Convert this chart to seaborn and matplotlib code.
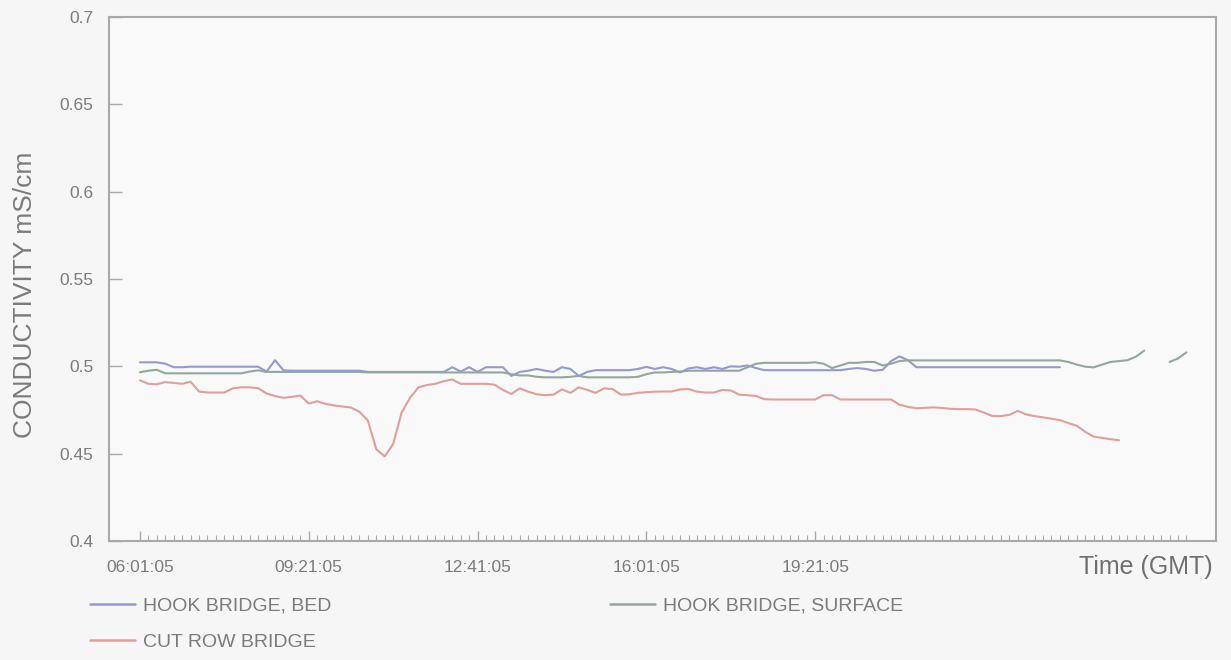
import numpy as np
import pandas as pd
import matplotlib
matplotlib.use("Agg")
import matplotlib.pyplot as plt
import matplotlib.dates as mdates
from matplotlib.ticker import FixedLocator, FixedFormatter, FuncFormatter
from matplotlib.lines import Line2D
import seaborn as sns

# ---- data: conductivity logged every 10 minutes from 06:01:05 GMT ----
start_time = "2000-01-01 06:01:05"
sample_interval_min = 10
n_samples = 125

nan = np.nan

cond_hook_bed = [
    0.5023, 0.5023, 0.5023, 0.5015, 0.4995, 0.4995, 0.4998, 0.4998, 0.4998, 0.4998,
    0.4998, 0.4998, 0.4998, 0.4998, 0.4998, 0.4970, 0.5035, 0.4977, 0.4975, 0.4975,
    0.4975, 0.4975, 0.4975, 0.4975, 0.4975, 0.4975, 0.4975, 0.4968, 0.4968, 0.4968,
    0.4968, 0.4968, 0.4968, 0.4968, 0.4968, 0.4968, 0.4968, 0.4995, 0.4970, 0.4995,
    0.4968, 0.4995, 0.4995, 0.4995, 0.4945, 0.4968, 0.4975, 0.4985, 0.4975, 0.4968,
    0.4995, 0.4985, 0.4945, 0.4968, 0.4978, 0.4978, 0.4978, 0.4978, 0.4978, 0.4985,
    0.4997, 0.4985, 0.4995, 0.4985, 0.4965, 0.4988, 0.4995, 0.4985, 0.4995, 0.4985,
    0.5000, 0.4998, 0.5005, 0.4990, 0.4978, 0.4978, 0.4978, 0.4978, 0.4978, 0.4978,
    0.4978, 0.4978, 0.4978, 0.4978, 0.4985, 0.4990, 0.4985, 0.4975, 0.4980, 0.5030,
    0.5057, 0.5035, 0.4995, 0.4995, 0.4995, 0.4995, 0.4995, 0.4995, 0.4995, 0.4995,
    0.4995, 0.4995, 0.4995, 0.4995, 0.4995, 0.4995, 0.4995, 0.4995, 0.4995, 0.4995,
    nan, nan, nan, nan, nan, nan, nan, nan, nan, nan,
    nan, nan, nan, nan, nan,
]

cond_hook_surface = [
    0.4966, 0.4975, 0.4980, 0.4960, 0.4960, 0.4960, 0.4960, 0.4960, 0.4960, 0.4960,
    0.4960, 0.4960, 0.4960, 0.4970, 0.4977, 0.4968, 0.4968, 0.4968, 0.4968, 0.4968,
    0.4968, 0.4968, 0.4968, 0.4968, 0.4968, 0.4968, 0.4968, 0.4965, 0.4965, 0.4965,
    0.4965, 0.4965, 0.4965, 0.4965, 0.4965, 0.4965, 0.4965, 0.4965, 0.4965, 0.4965,
    0.4965, 0.4965, 0.4965, 0.4965, 0.4955, 0.4948, 0.4948, 0.4940, 0.4937, 0.4937,
    0.4937, 0.4940, 0.4945, 0.4937, 0.4937, 0.4937, 0.4937, 0.4937, 0.4937, 0.4940,
    0.4955, 0.4965, 0.4965, 0.4968, 0.4970, 0.4975, 0.4975, 0.4975, 0.4975, 0.4975,
    0.4975, 0.4975, 0.4995, 0.5015, 0.5020, 0.5020, 0.5020, 0.5020, 0.5020, 0.5020,
    0.5023, 0.5015, 0.4990, 0.5005, 0.5020, 0.5020, 0.5025, 0.5025, 0.5005, 0.5015,
    0.5030, 0.5034, 0.5034, 0.5034, 0.5034, 0.5034, 0.5034, 0.5034, 0.5034, 0.5034,
    0.5034, 0.5034, 0.5034, 0.5034, 0.5034, 0.5034, 0.5034, 0.5034, 0.5034, 0.5034,
    0.5025, 0.5010, 0.4998, 0.4994, 0.5010, 0.5025, 0.5030, 0.5035, 0.5055, 0.5090,
    nan, nan, 0.5025, 0.5045, 0.5080,
]

cond_cut_row = [
    0.4920, 0.4900, 0.4897, 0.4910, 0.4905, 0.4900, 0.4912, 0.4856, 0.4850, 0.4850,
    0.4850, 0.4874, 0.4880, 0.4880, 0.4875, 0.4845, 0.4830, 0.4820, 0.4825, 0.4833,
    0.4787, 0.4800, 0.4785, 0.4776, 0.4770, 0.4764, 0.4740, 0.4690, 0.4525, 0.4485,
    0.4555, 0.4735, 0.4820, 0.4880, 0.4893, 0.4900, 0.4915, 0.4925, 0.4900, 0.4900,
    0.4900, 0.4900, 0.4895, 0.4865, 0.4842, 0.4874, 0.4855, 0.4840, 0.4835, 0.4838,
    0.4868, 0.4848, 0.4880, 0.4865, 0.4848, 0.4874, 0.4870, 0.4838, 0.4840, 0.4848,
    0.4852, 0.4855, 0.4856, 0.4856, 0.4868, 0.4870, 0.4855, 0.4850, 0.4850, 0.4865,
    0.4862, 0.4838, 0.4835, 0.4830, 0.4812, 0.4810, 0.4810, 0.4810, 0.4810, 0.4810,
    0.4810, 0.4835, 0.4835, 0.4810, 0.4810, 0.4810, 0.4810, 0.4810, 0.4810, 0.4810,
    0.4780, 0.4768, 0.4760, 0.4762, 0.4765, 0.4762, 0.4757, 0.4755, 0.4755, 0.4753,
    0.4735, 0.4716, 0.4715, 0.4722, 0.4745, 0.4725, 0.4715, 0.4708, 0.4700, 0.4692,
    0.4675, 0.4660, 0.4625, 0.4598, 0.4590, 0.4583, 0.4577, nan, nan, nan,
    nan, nan, nan, nan, nan,
]

series_names = ["HOOK BRIDGE, BED", "HOOK BRIDGE, SURFACE", "CUT ROW BRIDGE"]
series_values = [cond_hook_bed, cond_hook_surface, cond_cut_row]
series_colors = ["#9597db", "#93a89b", "#e59d9b"]

time_tick_labels = ["06:01:05", "09:21:05", "12:41:05", "16:01:05", "19:21:05"]
y_ticks = [0.4, 0.45, 0.5, 0.55, 0.6, 0.65, 0.7]

# ---- long-form table; gaps in a record split the line into segments ----
base = pd.Timestamp(start_time)
times = base + pd.to_timedelta(np.arange(n_samples) * sample_interval_min, unit="min")

rows = []
for name, vals in zip(series_names, series_values):
    seg = 0
    prev_missing = False
    for t, v in zip(times, vals):
        if np.isnan(v):
            prev_missing = True
            continue
        if prev_missing:
            seg += 1
            prev_missing = False
        rows.append({"time": t, "value": v, "series": name, "segment": f"{name}#{seg}"})
df = pd.DataFrame(rows)

# ---- figure ----
sns.set_theme(style="white")
plt.rcParams["font.family"] = ["Liberation Sans", "DejaVu Sans"]

text_grey = "#7b7b7b"
frame_grey = "#a9a9ab"

fig = plt.figure(figsize=(12.31, 6.6), dpi=100, facecolor="#f6f6f6")
ax = fig.add_axes([109 / 1231, 1 - 541 / 660, 1107 / 1231, 524 / 660])
ax.set_facecolor("#f9f9f9")

palette = dict(zip(series_names, series_colors))
sns.lineplot(
    data=df, x="time", y="value", hue="series", units="segment",
    estimator=None, palette=palette, hue_order=series_names,
    linewidth=1.5, legend=False, ax=ax,
)

# axes limits and ticks
ax.set_xlim(base - pd.Timedelta(minutes=36.7), base + pd.Timedelta(minutes=1275))
ax.set_ylim(0.4, 0.7)

tick_times = [pd.Timestamp("2000-01-01 " + s) for s in time_tick_labels]
ax.xaxis.set_major_locator(FixedLocator(mdates.date2num(tick_times)))
ax.xaxis.set_major_formatter(FixedFormatter(time_tick_labels))
ax.xaxis.set_minor_locator(FixedLocator(mdates.date2num(times)))

ax.yaxis.set_major_locator(FixedLocator(y_ticks))
ax.yaxis.set_major_formatter(FuncFormatter(lambda v, p: f"{v:g}"))

ax.tick_params(axis="x", which="major", direction="in", length=7, width=1,
               color=frame_grey, labelsize=12.5, labelcolor=text_grey, pad=14)
ax.tick_params(axis="x", which="minor", direction="in", length=4, width=0.8,
               color=frame_grey)
ax.tick_params(axis="y", which="major", direction="in", length=9, width=1,
               color=frame_grey, labelsize=12.5, labelcolor=text_grey, pad=11)
ax.tick_params(bottom=True, left=True, which="both")
ax.tick_params(axis="y", which="minor", left=False)

for sp in ax.spines.values():
    sp.set_visible(True)
    sp.set_color(frame_grey)
    sp.set_linewidth(1.5)

ax.set_ylabel("CONDUCTIVITY mS/cm", fontsize=19, color=text_grey, va="center")
ax.yaxis.set_label_coords(-84 / 1107, (541 - 295) / 524)
ax.set_xlabel("Time (GMT)", fontsize=18, color="#6f6f6f", ha="right", va="center")
ax.xaxis.set_label_coords((1213 - 109) / 1107, -26 / 524)
ax.grid(False)

# legend beneath the plot, two columns
handles = [Line2D([], [], color=c, linewidth=1.8) for c in series_colors]
order = [0, 2, 1]
leg = fig.legend(
    [handles[i] for i in order], [series_names[i] for i in order],
    loc="upper left", bbox_to_anchor=(90 / 1231, 1 - 597 / 660),
    ncol=2, frameon=False, fontsize=14, handlelength=2.3, handletextpad=0.45,
    columnspacing=14.3, labelspacing=0.95, borderpad=0, borderaxespad=0,
)
for txt in leg.get_texts():
    txt.set_color(text_grey)

fig.savefig("out.png", dpi=100, facecolor=fig.get_facecolor())
